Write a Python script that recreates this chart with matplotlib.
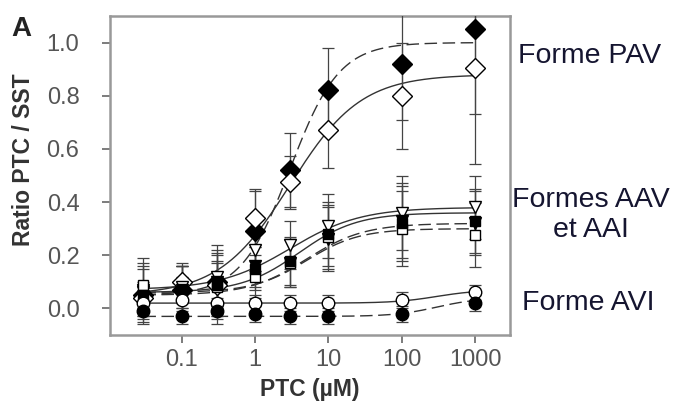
import numpy as np
import matplotlib
matplotlib.use('Agg')
import matplotlib.pyplot as plt

plt.rcParams['font.family'] = ['Liberation Sans', 'DejaVu Sans']

# PTC concentrations (uM)
conc = [0.03, 0.1, 0.3, 1, 3, 10, 100, 1000]

# Forme PAV
pav_filled = [0.05, 0.07, 0.10, 0.29, 0.52, 0.82, 0.92, 1.05]
pav_filled_err = [0.05, 0.05, 0.08, 0.15, 0.14, 0.16, 0.21, 0.32]
pav_open = [0.04, 0.10, 0.09, 0.34, 0.475, 0.67, 0.80, 0.905]
pav_open_err = [0.05, 0.06, 0.08, 0.11, 0.10, 0.14, 0.20, 0.36]

# Formes AAV et AAI
aav_open_tri = [0.07, 0.08, 0.12, 0.22, 0.24, 0.31, 0.36, 0.38]
aav_filled_tri = [0.06, 0.07, 0.10, 0.16, 0.17, 0.26, 0.33, 0.32]
aai_open_sq = [0.09, 0.07, 0.08, 0.12, 0.17, 0.27, 0.30, 0.275]
aai_filled_sq = [0.05, 0.07, 0.09, 0.15, 0.18, 0.28, 0.32, 0.33]
aav_err = [0.10, 0.09, 0.12, 0.08, 0.09, 0.12, 0.14, 0.12]

# Forme AVI
avi_open = [0.02, 0.03, 0.02, 0.02, 0.02, 0.02, 0.03, 0.06]
avi_filled = [-0.01, -0.03, -0.01, -0.02, -0.03, -0.03, -0.02, 0.02]
avi_err = [0.05, 0.03, 0.05, 0.03, 0.03, 0.03, 0.03, 0.03]

# sigmoid fit parameters: bottom, top, EC50, Hill slope
fit_pav_filled = [0.05, 1.0, 3.0, 1.3]
fit_pav_open = [0.05, 0.88, 3.0, 0.9]
fit_aav_open_tri = [0.07, 0.38, 3.0, 0.9]
fit_aav_filled_tri = [0.06, 0.36, 4.0, 1.1]
fit_aai_open_sq = [0.06, 0.30, 5.0, 1.2]
fit_aai_filled_sq = [0.05, 0.32, 5.0, 1.1]
fit_avi_open = [0.02, 0.07, 300.0, 1.5]
fit_avi_filled = [-0.03, 0.04, 300.0, 1.5]

def hill(x, p):
    b, t, ec50, n = p
    return b + (t - b) / (1 + (ec50 / x) ** n)

xfit = np.logspace(np.log10(0.03), 3, 300)

fig = plt.figure(figsize=(6.94, 4.05), dpi=100)
ax = fig.add_axes([0.1585, 0.1728, 0.5764, 0.7877])

series = [
    (pav_filled, pav_filled_err, 'D', 'black', 10, fit_pav_filled, (0, (9, 4))),
    (pav_open, pav_open_err, 'D', 'white', 10, fit_pav_open, '-'),
    (aav_open_tri, aav_err, 'v', 'white', 8.5, fit_aav_open_tri, '-'),
    (aav_filled_tri, aav_err, 'v', 'black', 8.5, fit_aav_filled_tri, '-'),
    (aai_open_sq, aav_err, 's', 'white', 7.5, fit_aai_open_sq, (0, (9, 4))),
    (aai_filled_sq, aav_err, 's', 'black', 7.5, fit_aai_filled_sq, (0, (9, 4))),
    (avi_open, avi_err, 'o', 'white', 9, fit_avi_open, '-'),
    (avi_filled, avi_err, 'o', 'black', 9, fit_avi_filled, (0, (9, 4))),
]

for vals, err, mk, face, ms, fit, ls in series:
    ax.plot(xfit, hill(xfit, fit), color='#333333', lw=1.0, ls=ls, zorder=2)
    ax.errorbar(conc, vals, yerr=err, fmt='none', ecolor='#444444',
                elinewidth=0.9, capsize=4.5, capthick=0.9, zorder=3)
    ax.plot(conc, vals, ls='none', marker=mk, ms=ms, mfc=face, mec='black',
            mew=1.0, zorder=4)

ax.set_xscale('log')
ax.set_xlim(0.0105, 3000)
ax.set_ylim(-0.1, 1.1)
ax.set_xticks([0.1, 1, 10, 100, 1000])
ax.set_xticklabels(['0.1', '1', '10', '100', '1000'])
ax.xaxis.set_minor_locator(matplotlib.ticker.NullLocator())
ax.set_yticks([0.0, 0.2, 0.4, 0.6, 0.8, 1.0])
ax.set_yticklabels(['0.0', '0.2', '0.4', '0.6', '0.8', '1.0'])

for sp in ax.spines.values():
    sp.set_color('#999999')
    sp.set_linewidth(1.8)
ax.tick_params(axis='both', colors='#666666', labelcolor='#555555',
               labelsize=17, length=6, width=1.2)
ax.tick_params(axis='y', pad=16)
ax.tick_params(axis='x', pad=4)

ax.set_xlabel('PTC (\u00b5M)', fontsize=16.5, fontweight='bold', color='#333333', labelpad=5)
ax.set_ylabel('Ratio PTC / SST', fontsize=16.5, fontweight='bold', color='#333333')
ax.yaxis.set_label_coords(-0.188, 0.55)

fig.text(0.016, 0.96, 'A', fontsize=20, fontweight='bold', color='#222222', va='top')

fig.text(0.746, 0.862, 'Forme PAV', fontsize=20.5, color='#151530', va='center', ha='left')
fig.text(0.852, 0.47, 'Formes AAV\net AAI', fontsize=20.5, color='#151530',
         va='center', ha='center', linespacing=1.2)
fig.text(0.752, 0.252, 'Forme AVI', fontsize=20.5, color='#151530', va='center', ha='left')

fig.savefig('out.png', dpi=100)
